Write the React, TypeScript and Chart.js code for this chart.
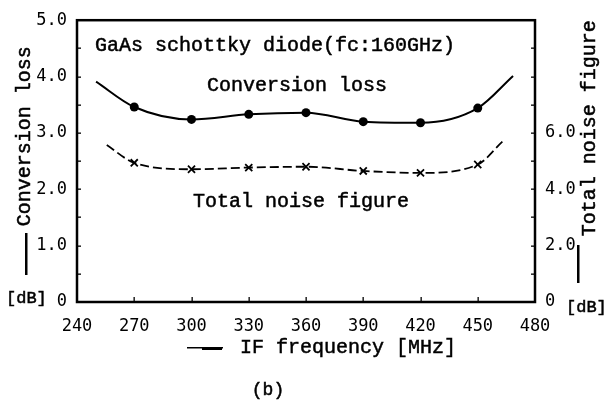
import React, { useEffect, useRef } from "react";
import { Chart, registerables } from "chart.js";

Chart.register(...registerables);

// IF frequency [MHz] (first/last entries are curve ends without markers)
const lossFreq = [250, 270, 300, 330, 360, 390, 420, 450, 468.5];
const lossValues = [3.91, 3.46, 3.24, 3.33, 3.36, 3.2, 3.18, 3.44, 4.01];
const noiseFreq = [255.6, 270, 300, 330, 360, 390, 420, 450, 462.9];
const noiseValues = [5.57, 4.94, 4.71, 4.77, 4.8, 4.65, 4.58, 4.88, 5.69];

const xTicks = [240, 270, 300, 330, 360, 390, 420, 450, 480];
const leftTicks = [0, 1, 2, 3, 4, 5];
const rightTicks = [0, 2, 4, 6];

const titleText = "GaAs schottky diode(fc:160GHz)";
const lossLabel = "Conversion loss";
const noiseLabel = "Total noise figure";
const xTitle = "IF frequency [MHz]";
const unitLabel = "[dB]";
const panelLabel = "(b)";

const INK = "#000000";
const MONO = "'Liberation Mono', 'Courier New', monospace";
const TICKFONT = "'DejaVu Sans Mono', monospace";

const fmt = (v: number) => (v === 0 ? "0" : v.toFixed(1));

function inkText(ctx: CanvasRenderingContext2D, t: string, x: number, y: number) {
  ctx.fillText(t, x, y);
  ctx.strokeText(t, x, y);
}

const framePlugin = {
  id: "frame",
  afterDatasetsDraw(chart: any) {
    const { ctx, chartArea: a } = chart;
    ctx.save();
    ctx.setLineDash([]);
    ctx.lineWidth = 2.5;
    ctx.strokeStyle = "#000";
    ctx.strokeRect(a.left, a.top, a.right - a.left, a.bottom - a.top);
    ctx.restore();
  },
};

const decorPlugin = {
  id: "decor",
  afterDraw(chart: any) {
    const { ctx, chartArea: a, scales } = chart;
    const xs = scales.x;
    const yl = scales.yL;
    const yr = scales.yR;
    ctx.save();
    ctx.fillStyle = INK;
    ctx.strokeStyle = INK;
    // inward tick marks
    xTicks.forEach((v) => {
      const px = Math.round(xs.getPixelForValue(v));
      ctx.fillRect(px - 0.5, a.bottom - 5, 1.3, 5);
    });
    for (let v = 0.5; v < 5; v += 0.5) {
      const py = Math.round(yl.getPixelForValue(v));
      ctx.fillRect(a.left, py - 0.5, 4, 1.3);
    }
    for (let v = 1; v < 10; v += 1) {
      const py = Math.round(yr.getPixelForValue(v));
      ctx.fillRect(a.right - 4, py - 0.5, 4, 1.3);
    }

    ctx.lineWidth = 0.5;
    ctx.textBaseline = "middle";
    ctx.font = `20px ${MONO}`;
    ctx.textAlign = "left";
    inkText(ctx, titleText, a.left + 18, a.top + 26);
    ctx.textAlign = "center";
    inkText(ctx, lossLabel, a.left + 220, a.top + 66);
    inkText(ctx, noiseLabel, a.left + 224, a.top + 182);

    // left axis title
    ctx.save();
    ctx.translate(25, a.top + 116);
    ctx.rotate(-Math.PI / 2);
    inkText(ctx, lossLabel, 0, 0);
    ctx.restore();
    // right axis title
    ctx.save();
    ctx.translate(590, a.top + 108);
    ctx.rotate(-Math.PI / 2);
    inkText(ctx, noiseLabel, 0, 0);
    ctx.restore();

    // vertical arrow bars
    ctx.fillRect(25, a.bottom - 69, 2.5, 42);
    ctx.fillRect(577, a.bottom - 57, 2.5, 38);

    // [dB] units
    ctx.font = `17px ${MONO}`;
    ctx.textAlign = "left";
    inkText(ctx, unitLabel, 6, a.bottom - 4);
    inkText(ctx, unitLabel, 566, a.bottom + 5);

    // x title with bar
    ctx.font = `20px ${MONO}`;
    inkText(ctx, xTitle, 240, a.bottom + 46);
    ctx.fillRect(187, a.bottom + 45, 36, 1.5);
    ctx.fillRect(202, a.bottom + 45, 20, 3);

    ctx.font = `18px ${MONO}`;
    ctx.textAlign = "center";
    inkText(ctx, panelLabel, 268, a.bottom + 88);
    ctx.restore();
  },
};

const borderOpts = { display: true, color: INK, width: 2 };

export default function App() {
  const ref = useRef<HTMLCanvasElement>(null);
  useEffect(() => {
    if (!ref.current) return;
    const lastL = lossFreq.length - 1;
    const lastN = noiseFreq.length - 1;
    const chart = new Chart(ref.current, {
      type: "line",
      data: {
        datasets: [
          {
            label: lossLabel,
            data: lossFreq.map((x, i) => ({ x, y: lossValues[i] })),
            yAxisID: "yL",
            borderColor: INK,
            backgroundColor: INK,
            borderWidth: 2,
            cubicInterpolationMode: "monotone",
            pointStyle: "circle",
            pointRadius: (c: any) => (c.dataIndex === 0 || c.dataIndex === lastL ? 0 : 4.5),
            pointBorderWidth: 0,
          },
          {
            label: noiseLabel,
            data: noiseFreq.map((x, i) => ({ x, y: noiseValues[i] })),
            yAxisID: "yR",
            borderColor: INK,
            backgroundColor: INK,
            borderWidth: 1.8,
            borderDash: [9, 4],
            cubicInterpolationMode: "monotone",
            pointStyle: "crossRot",
            pointRadius: (c: any) => (c.dataIndex === 0 || c.dataIndex === lastN ? 0 : 5),
            pointBorderWidth: 1.8,
          },
        ],
      },
      options: {
        responsive: false,
        animation: false,
        devicePixelRatio: 1,
        layout: { autoPadding: false, padding: { top: 16, left: 0, right: 0, bottom: 0 } } as any,
        plugins: { legend: { display: false }, tooltip: { enabled: false } },
        scales: {
          x: {
            type: "linear",
            min: 240,
            max: 480,
            afterFit: (s: any) => {
              s.height = 104;
            },
            afterBuildTicks: (s: any) => {
              s.ticks = xTicks.map((v) => ({ value: v }));
            },
            grid: { display: false, drawTicks: false },
            border: borderOpts,
            ticks: {
              padding: 14,
              color: INK,
              font: { family: TICKFONT, size: 17 },
              callback: (v: any) => String(v),
            },
          },
          xTop: {
            type: "linear",
            position: "top",
            min: 240,
            max: 480,
            afterFit: (s: any) => {
              s.height = 0;
            },
            grid: { display: false, drawTicks: false },
            border: borderOpts,
            ticks: { display: false },
          },
          yL: {
            type: "linear",
            position: "left",
            min: 0,
            max: 5,
            afterFit: (s: any) => {
              s.width = 77;
            },
            afterBuildTicks: (s: any) => {
              s.ticks = leftTicks.map((v) => ({ value: v }));
            },
            grid: { display: false, drawTicks: false },
            border: borderOpts,
            ticks: {
              padding: 10,
              color: INK,
              font: { family: TICKFONT, size: 17 },
              callback: (v: any) => fmt(Number(v)),
            },
          },
          yR: {
            type: "linear",
            position: "right",
            min: 0,
            max: 10,
            afterFit: (s: any) => {
              s.width = 75;
            },
            afterBuildTicks: (s: any) => {
              s.ticks = rightTicks.map((v) => ({ value: v }));
            },
            grid: { display: false, drawTicks: false },
            border: borderOpts,
            ticks: {
              padding: 10,
              color: INK,
              font: { family: TICKFONT, size: 17 },
              callback: (v: any) => fmt(Number(v)),
            },
          },
        },
      },
      plugins: [framePlugin, decorPlugin],
    } as any);
    return () => chart.destroy();
  }, []);
  return (
    <div style={{ position: "absolute", left: 0, top: 0, width: 610, height: 406, background: "#fff" }}>
      <canvas ref={ref} width={610} height={406} style={{ display: "block" }} />
    </div>
  );
}
